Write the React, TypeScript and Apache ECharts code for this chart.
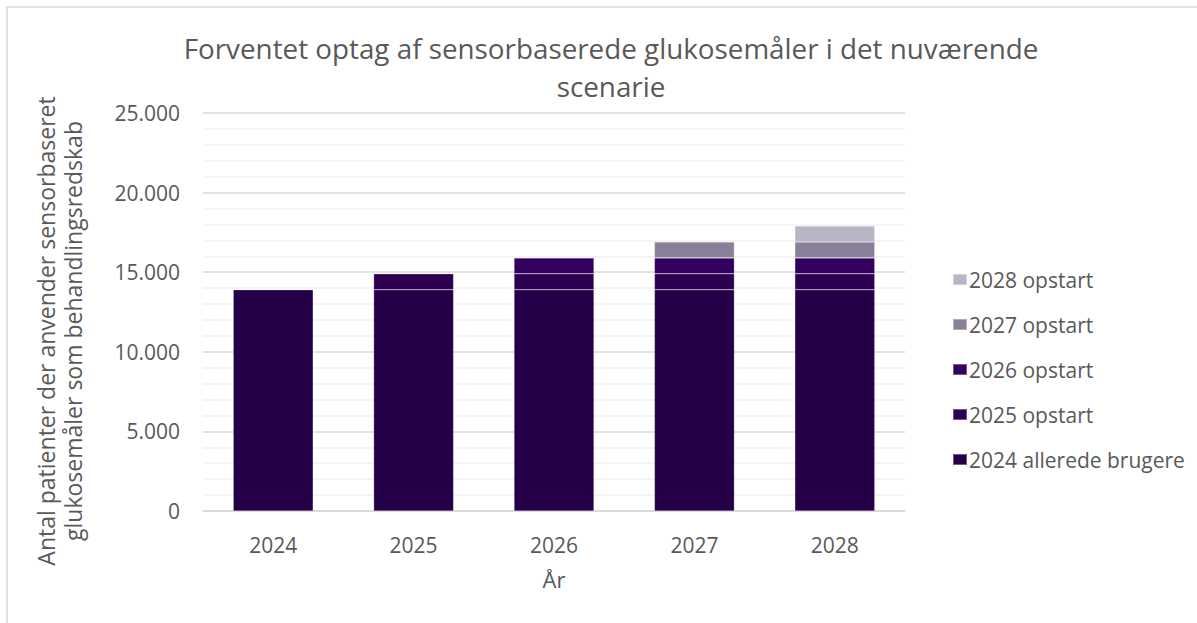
import React, { useEffect, useRef } from "react";
import * as echarts from "echarts";

const categories = ["2024", "2025", "2026", "2027", "2028"];
const seriesNames = ["2024 allerede brugere", "2025 opstart", "2026 opstart", "2027 opstart", "2028 opstart"];
const s2024 = [13900, 13900, 13900, 13900, 13900];
const s2025 = [0, 1000, 1000, 1000, 1000];
const s2026 = [0, 0, 1000, 1000, 1000];
const s2027 = [0, 0, 0, 1000, 1000];
const s2028 = [0, 0, 0, 0, 1000];
const seriesValues = [s2024, s2025, s2026, s2027, s2028];
const colors = ["#250049", "#2d0052", "#340060", "#878098", "#b8b5c6"];
const yAxisTitle = "Antal patienter der anvender sensorbaseret\nglukosemåler som behandlingsredskab";

const FONT = "'Open Sans', sans-serif";
const TXT = "#595959";

export default function App() {
  const ref = useRef<HTMLDivElement>(null);
  useEffect(() => {
    const chart = echarts.init(ref.current!, null, { renderer: "svg" });
    chart.setOption({
      animation: false,
      textStyle: { fontFamily: FONT },
      title: {
        text: "Forventet optag af sensorbaserede glukosemåler i det nuværende\nscenarie",
        left: 606,
        textAlign: "center",
        top: 24,
        textStyle: { fontFamily: FONT, fontSize: 27.8, fontWeight: "normal", color: TXT, lineHeight: 38 },
      },
      graphic: [
        {
          type: "rect",
          shape: { x: 7, y: 7, width: 1300, height: 800 },
          style: { fill: "none", stroke: "#d9d9d9", lineWidth: 1.5 },
          silent: true,
        },
        {
          type: "text",
          x: 59,
          y: 331,
          rotation: Math.PI / 2,
          silent: true,
          style: {
            text: yAxisTitle,
            fontFamily: FONT,
            fontSize: 23,
            lineHeight: 27,
            fill: TXT,
            align: "center",
            verticalAlign: "middle",
          },
        },
      ],
      legend: {
        orient: "vertical",
        left: 947,
        top: 263,
        itemWidth: 14,
        itemHeight: 11,
        itemGap: 22,
        icon: "rect",
        data: [...seriesNames].reverse(),
        textStyle: { fontFamily: FONT, fontSize: 21, color: TXT, lineHeight: 23, padding: [0, 0, 0, -3] },
      },
      grid: { left: 203, right: 292, top: 113, bottom: 112 },
      xAxis: {
        type: "category",
        data: categories,
        name: "År",
        nameLocation: "middle",
        nameGap: 57,
        nameTextStyle: { fontFamily: FONT, fontSize: 22, color: TXT },
        axisLine: { lineStyle: { color: "#d9d9d9", width: 1.5 } },
        axisTick: { show: false },
        axisLabel: { fontFamily: FONT, fontSize: 21, color: TXT, margin: 23 },
      },
      yAxis: {
        type: "value",
        min: 0,
        max: 25000,
        interval: 5000,
        axisLine: { show: false },
        axisTick: { show: false },
        axisLabel: {
          fontFamily: FONT,
          fontSize: 21,
          color: TXT,
          margin: 23,
          formatter: (v: number) => v.toString().replace(/\B(?=(\d{3})+(?!\d))/g, "."),
        },
        splitLine: { lineStyle: { color: "#d9d9d9", width: 1.5 } },
        minorTick: { show: false, splitNumber: 5 },
        minorSplitLine: { show: true, lineStyle: { color: "#f0f0f0", width: 1.5 } },
      },
      series: seriesNames.map((name, i) => ({
        name,
        type: "bar",
        stack: "total",
        barWidth: "57%",
        data: seriesValues[i].map((v) => (v === 0 ? null : v)),
        itemStyle: { color: colors[i], borderColor: "rgba(255,255,255,0.35)", borderWidth: 0.6 },
      })),
    });
    return () => chart.dispose();
  }, []);
  return (
    <div
      ref={ref}
      style={{ position: "absolute", left: 0, top: 0, width: 1197, height: 623, background: "#fff" }}
    />
  );
}
